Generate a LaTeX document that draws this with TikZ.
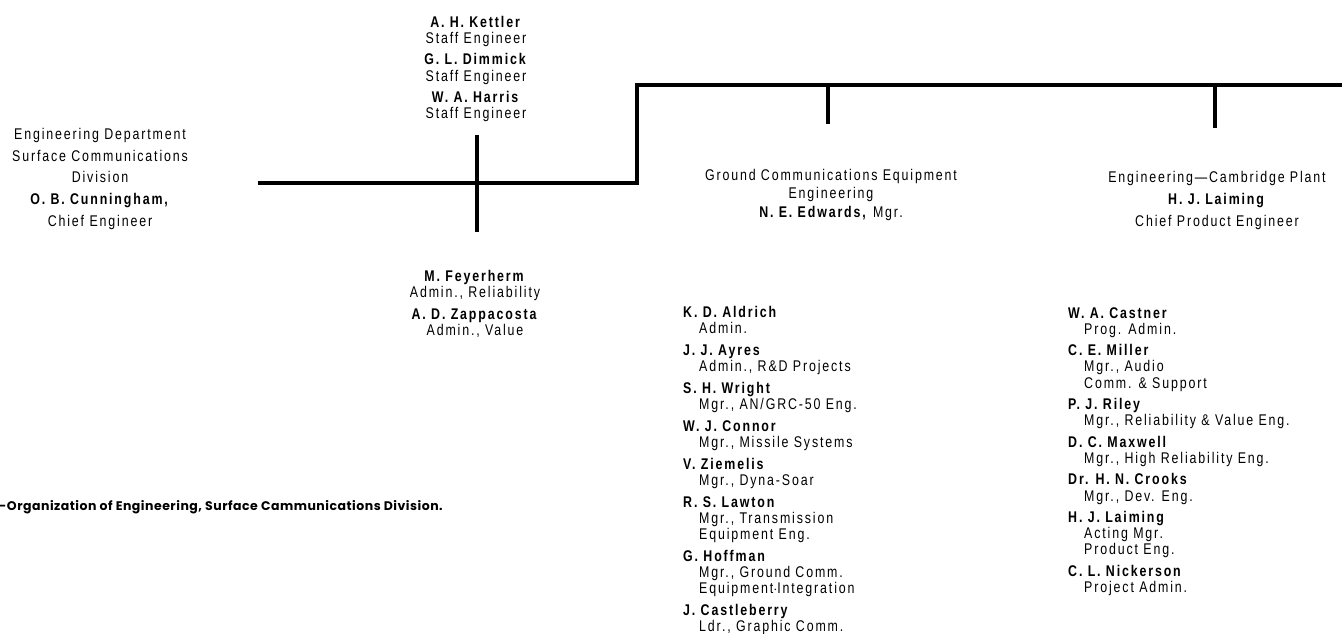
\documentclass[tikz,border=0pt]{standalone}
\usepackage{fontspec}
\setmainfont{Liberation Sans}[FakeStretch=0.8,LetterSpace=12]
\newfontfamily\capfont{Poppins}[LetterSpace=4]
\newcommand\nm[1]{\textbf{#1}}
\newcommand\tl[1]{\hspace*{16pt}#1}
\tikzset{
  orgline/.style={line width=4pt, line join=miter, line cap=butt},
  blk/.style={inner sep=0pt, align=center, anchor=north},
  col/.style={inner sep=0pt, align=left, anchor=north west,
    font=\fontsize{15.5}{16.3}\selectfont},
}
\begin{document}
\begin{tikzpicture}[x=1pt,y=-1pt]
\useasboundingbox (0,0) rectangle (1342,634);
\fill[white] (0,0) rectangle (1342,634);

% text blocks
\node[blk, font=\fontsize{15.5}{21.7}\selectfont] (chief) at (100,128)
  {Engineering Department\\Surface Communications\\Division\\\nm{O. B. Cunningham,}\\Chief Engineer};
\node[blk, font=\fontsize{15.5}{16.2}\selectfont] (staff) at (476,16)
  {\nm{A. H. Kettler}\\Staff Engineer\\[5pt]\nm{G. L. Dimmick}\\Staff Engineer\\[5pt]\nm{W. A. Harris}\\Staff Engineer};
\node[blk, font=\fontsize{15.5}{16.5}\selectfont] (admin) at (475,270)
  {\nm{M. Feyerherm}\\Admin., Reliability\\[5pt]\nm{A. D. Zappacosta}\\Admin., Value};
\node[blk, font=\fontsize{15.5}{18.5}\selectfont] (ground) at (831,169)
  {Ground Communications Equipment\\Engineering\\\nm{N. E. Edwards,} Mgr.};
\node[blk, font=\fontsize{15.5}{22}\selectfont] (cambridge) at (1217,171)
  {Engineering—Cambridge Plant\\\nm{H. J. Laiming}\\Chief Product Engineer};

\node[col, font=\fontsize{15.5}{16}\selectfont] (gcol) at (683,306)
  {\nm{K. D. Aldrich}\\\tl{Admin.}\\[6pt]
   \nm{J. J. Ayres}\\\tl{Admin., R\&D Projects}\\[6pt]
   \nm{S. H. Wright}\\\tl{Mgr., AN/GRC-50 Eng.}\\[6pt]
   \nm{W. J. Connor}\\\tl{Mgr., Missile Systems}\\[6pt]
   \nm{V. Ziemelis}\\\tl{Mgr., Dyna-Soar}\\[6pt]
   \nm{R. S. Lawton}\\\tl{Mgr., Transmission}\\\tl{Equipment Eng.}\\[6pt]
   \nm{G. Hoffman}\\\tl{Mgr., Ground Comm.}\\\tl{Equipment$\cdot$Integration}\\[6pt]
   \nm{J. Castleberry}\\\tl{Ldr., Graphic Comm.}};
\node[col] (ccol) at (1068,307)
  {\nm{W. A. Castner}\\\tl{Prog. Admin.}\\[5pt]
   \nm{C. E. Miller}\\\tl{Mgr., Audio}\\\tl{Comm. \& Support}\\[5pt]
   \nm{P. J. Riley}\\\tl{Mgr., Reliability \& Value Eng.}\\[5pt]
   \nm{D. C. Maxwell}\\\tl{Mgr., High Reliability Eng.}\\[5pt]
   \nm{Dr. H. N. Crooks}\\\tl{Mgr., Dev. Eng.}\\[5pt]
   \nm{H. J. Laiming}\\\tl{Acting Mgr.}\\\tl{Product Eng.}\\[5pt]
   \nm{C. L. Nickerson}\\\tl{Project Admin.}};

\node[anchor=base west, inner sep=0pt, font=\capfont\bfseries\fontsize{12.5}{15}\selectfont] (caption) at (-1,510)
  {-Organization of Engineering, Surface Cammunications Division.};

% connectors
\coordinate (start) at (258,183);
\coordinate (stepB) at (637,183);
\coordinate (stepT) at (637,85);
\coordinate (topR) at (1342,85);
\coordinate (crossT) at (477,135);
\coordinate (crossB) at (477,232);
\coordinate (d1) at (828,85);
\coordinate (d1e) at (828,124);
\coordinate (d2) at (1215,85);
\coordinate (d2e) at (1215,128);

\draw[orgline] (start) -- (stepB) -- (stepT) -- (topR);
\draw[orgline] (crossT) -- (crossB);
\draw[orgline] (d1) -- (d1e);
\draw[orgline] (d2) -- (d2e);
\end{tikzpicture}
\end{document}
